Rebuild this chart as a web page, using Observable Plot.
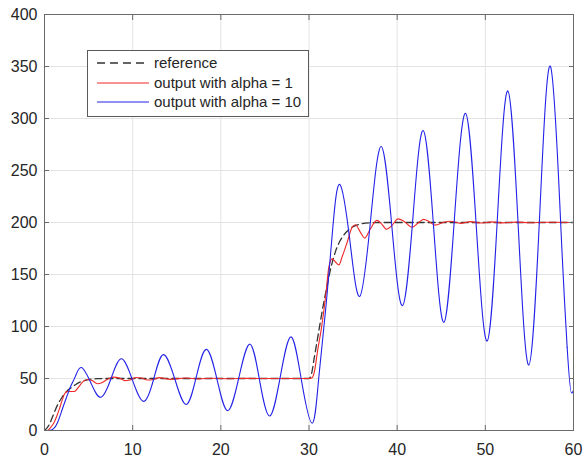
<!DOCTYPE html>
<html><head><meta charset="utf-8">
<script src="https://cdn.jsdelivr.net/npm/d3@7"></script>
<script src="https://cdn.jsdelivr.net/npm/@observablehq/plot@0.6"></script>
<style>
html,body{margin:0;padding:0;background:#fff;}
#wrap{position:relative;width:584px;height:459px;font-family:"Liberation Sans",Arial,sans-serif;}
#legend{position:absolute;left:87px;top:50px;}
</style>
</head><body>
<div id="wrap"></div>
<script>
// ---- data ----
const xTicks = [0, 10, 20, 30, 40, 50, 60];
const yTicks = [0, 50, 100, 150, 200, 250, 300, 350, 400];
const seriesNames = ["reference", "output with alpha = 1", "output with alpha = 10"];
const seriesColors = ["#333333", "#f02828", "#2222e8"];

const tRef = [0, 0.5, 1, 1.5, 2, 2.5, 3, 3.5, 4, 4.5, 5, 6, 7, 30, 30.3, 30.6, 31, 31.5, 32, 32.5, 33, 33.5, 34, 34.5, 35, 36, 37, 38, 60];
const vRef = [0, 5, 15, 25, 32, 37.5, 41, 44, 46.5, 48, 49, 49.8, 50, 50, 55, 70, 90, 115, 137, 157, 172, 182, 188.5, 193, 196, 198.8, 199.8, 200, 200];

const tRed = [0, 0.3, 0.7, 1.1, 1.4, 1.7, 2.0, 2.3, 2.6, 3.0, 3.4, 3.8, 4.3, 4.9, 5.4, 6.0, 6.5, 7.1, 7.8, 8.5, 9.1, 9.7, 10.4, 11.0, 11.7, 12.3, 13.0, 14.3, 16, 17.5, 19, 21, 23, 25, 30,
  30.3, 30.6, 31.0, 31.4, 31.9, 32.25, 32.62, 33.0, 33.38, 33.8, 34.33, 34.9, 35.27, 35.8, 36.33, 36.9, 37.7, 38.2, 38.8, 39.4, 40.1, 40.8, 41.7, 42.3, 43.0, 43.6, 44.3, 45.2, 46.0, 47.2, 48.3, 49.5, 50.7, 52, 53.5, 55, 57, 60];
const vRed = [0, 0, 3, 8, 14, 21, 29, 35.5, 37.5, 37.5, 37.5, 41, 46.5, 49, 48, 45, 46, 49, 51.3, 50.5, 48, 48.5, 51, 50.5, 48.5, 49, 50.8, 49.2, 50.5, 49.6, 50.3, 49.8, 50.1, 50, 50,
  50.5, 56, 78, 98, 130, 157, 165, 162, 159.3, 168, 181, 195.5, 197.8, 191, 185, 193, 202, 199, 193.5, 197, 203.5, 201, 195.5, 199, 203, 201, 197.5, 200, 201.2, 199.2, 200.8, 199.5, 200.6, 199.6, 200.4, 199.8, 200.2, 200];

// blue: main run (smooth spline) and the last trough at the right edge
const tBlue = [0, 0.5, 1.0, 1.5, 2.0, 2.5, 3.0, 3.5, 4.2, 5.3, 6.4, 7.55, 8.73, 10.0, 11.27, 12.4, 13.5, 14.8, 16.07, 17.2, 18.37, 19.6, 20.8, 22.05, 23.3, 24.4, 25.55, 26.75, 27.97, 29.15, 30.36,
  31.1, 31.93, 32.7, 33.5, 34.63, 35.76, 36.97, 38.19, 39.4, 40.6, 41.78, 42.95, 44.13, 45.3, 46.5, 47.75, 48.98, 50.2, 51.38, 52.55, 53.74, 54.93, 56.16, 57.39, 58.58, 59.28];
const vBlue = [0, 0, 1.5, 8, 20, 32, 43, 52, 60.5, 45, 32, 50, 69, 48, 28, 50, 73, 49, 25, 51, 78, 48, 19, 51, 83, 48, 14, 52, 90, 48, 7,
  50, 120, 195, 236.5, 183, 129, 201, 273, 196, 120, 204, 288.5, 196, 104, 204.5, 305, 195.5, 86, 206, 326.5, 195, 63, 206.5, 350, 193, 80];
const tBlueEnd = [59.28, 59.77, 60];
const vBlueEnd = [80, 36, 38.5];

// ---- build tables ----
const toRows = (ts, vs) => ts.map((t, i) => ({t, v: vs[i]}));
const refRows = toRows(tRef, vRef);
const redRows = toRows(tRed, vRed);
const blueRows = toRows(tBlue, vBlue);
const blueEndRows = toRows(tBlueEnd, vBlueEnd);

const axisColor = "#6a6a6a";
const textColor = "#262626";
const gridColor = "#e3e3e3";

const chart = Plot.plot({
  width: 584, height: 459,
  marginLeft: 44, marginRight: 11, marginTop: 14, marginBottom: 29,
  style: {fontFamily: "'Liberation Sans', Arial, sans-serif", fontSize: "16px", color: textColor, background: "#fff", overflow: "visible"},
  x: {domain: [0, 60], label: null},
  y: {domain: [0, 400], label: null},
  marks: [
    Plot.gridX(xTicks, {stroke: gridColor, strokeOpacity: 1}),
    Plot.gridY(yTicks, {stroke: gridColor, strokeOpacity: 1}),
    Plot.line(refRows, {x: "t", y: "v", stroke: seriesColors[0], strokeWidth: 1.3, strokeDasharray: "7,4", curve: "monotone-x", clip: true}),
    Plot.line(redRows, {x: "t", y: "v", stroke: seriesColors[1], strokeWidth: 1.1, curve: "monotone-x", clip: true}),
    Plot.line(blueRows, {x: "t", y: "v", stroke: seriesColors[2], strokeWidth: 1.1, curve: "natural", clip: true}),
    Plot.line(blueEndRows, {x: "t", y: "v", stroke: seriesColors[2], strokeWidth: 1.1, curve: "monotone-x", clip: true}),
    Plot.frame({stroke: axisColor}),
    Plot.axisX(xTicks, {anchor: "bottom", tickSize: -5, tickPadding: 18, stroke: axisColor, fill: textColor, label: null}),
    Plot.axisX(xTicks, {anchor: "top", tickSize: -5, tickFormat: () => "", stroke: axisColor, label: null}),
    Plot.axisY(yTicks, {anchor: "left", tickSize: -5, tickPadding: 12, stroke: axisColor, fill: textColor, label: null}),
    Plot.axisY(yTicks, {anchor: "right", tickSize: -5, tickFormat: () => "", stroke: axisColor, label: null})
  ]
});

const wrap = document.getElementById("wrap");
wrap.appendChild(chart);

// ---- legend ----
const lg = document.createElement("div");
lg.id = "legend";
const W = 221, H = 66, rowY = [13, 33, 52];
let svg = `<svg width="${W+1}" height="${H+1}" xmlns="http://www.w3.org/2000/svg" style="display:block">`;
svg += `<rect x="0.5" y="0.5" width="${W}" height="${H}" fill="#fff" stroke="#5a5a5a" stroke-width="1"/>`;
seriesNames.forEach((name, i) => {
  const dash = i === 0 ? ` stroke-dasharray="8,5"` : "";
  svg += `<line x1="10" x2="62" y1="${rowY[i]}" y2="${rowY[i]}" stroke="${seriesColors[i]}" stroke-width="${i===0?1.3:1.2}"${dash}/>`;
  svg += `<text x="67" y="${rowY[i]}" dy="0.35em" font-family="'Liberation Sans', Arial, sans-serif" font-size="15" fill="${textColor}">${name}</text>`;
});
svg += `</svg>`;
lg.innerHTML = svg;
wrap.appendChild(lg);
</script>
</body></html>
